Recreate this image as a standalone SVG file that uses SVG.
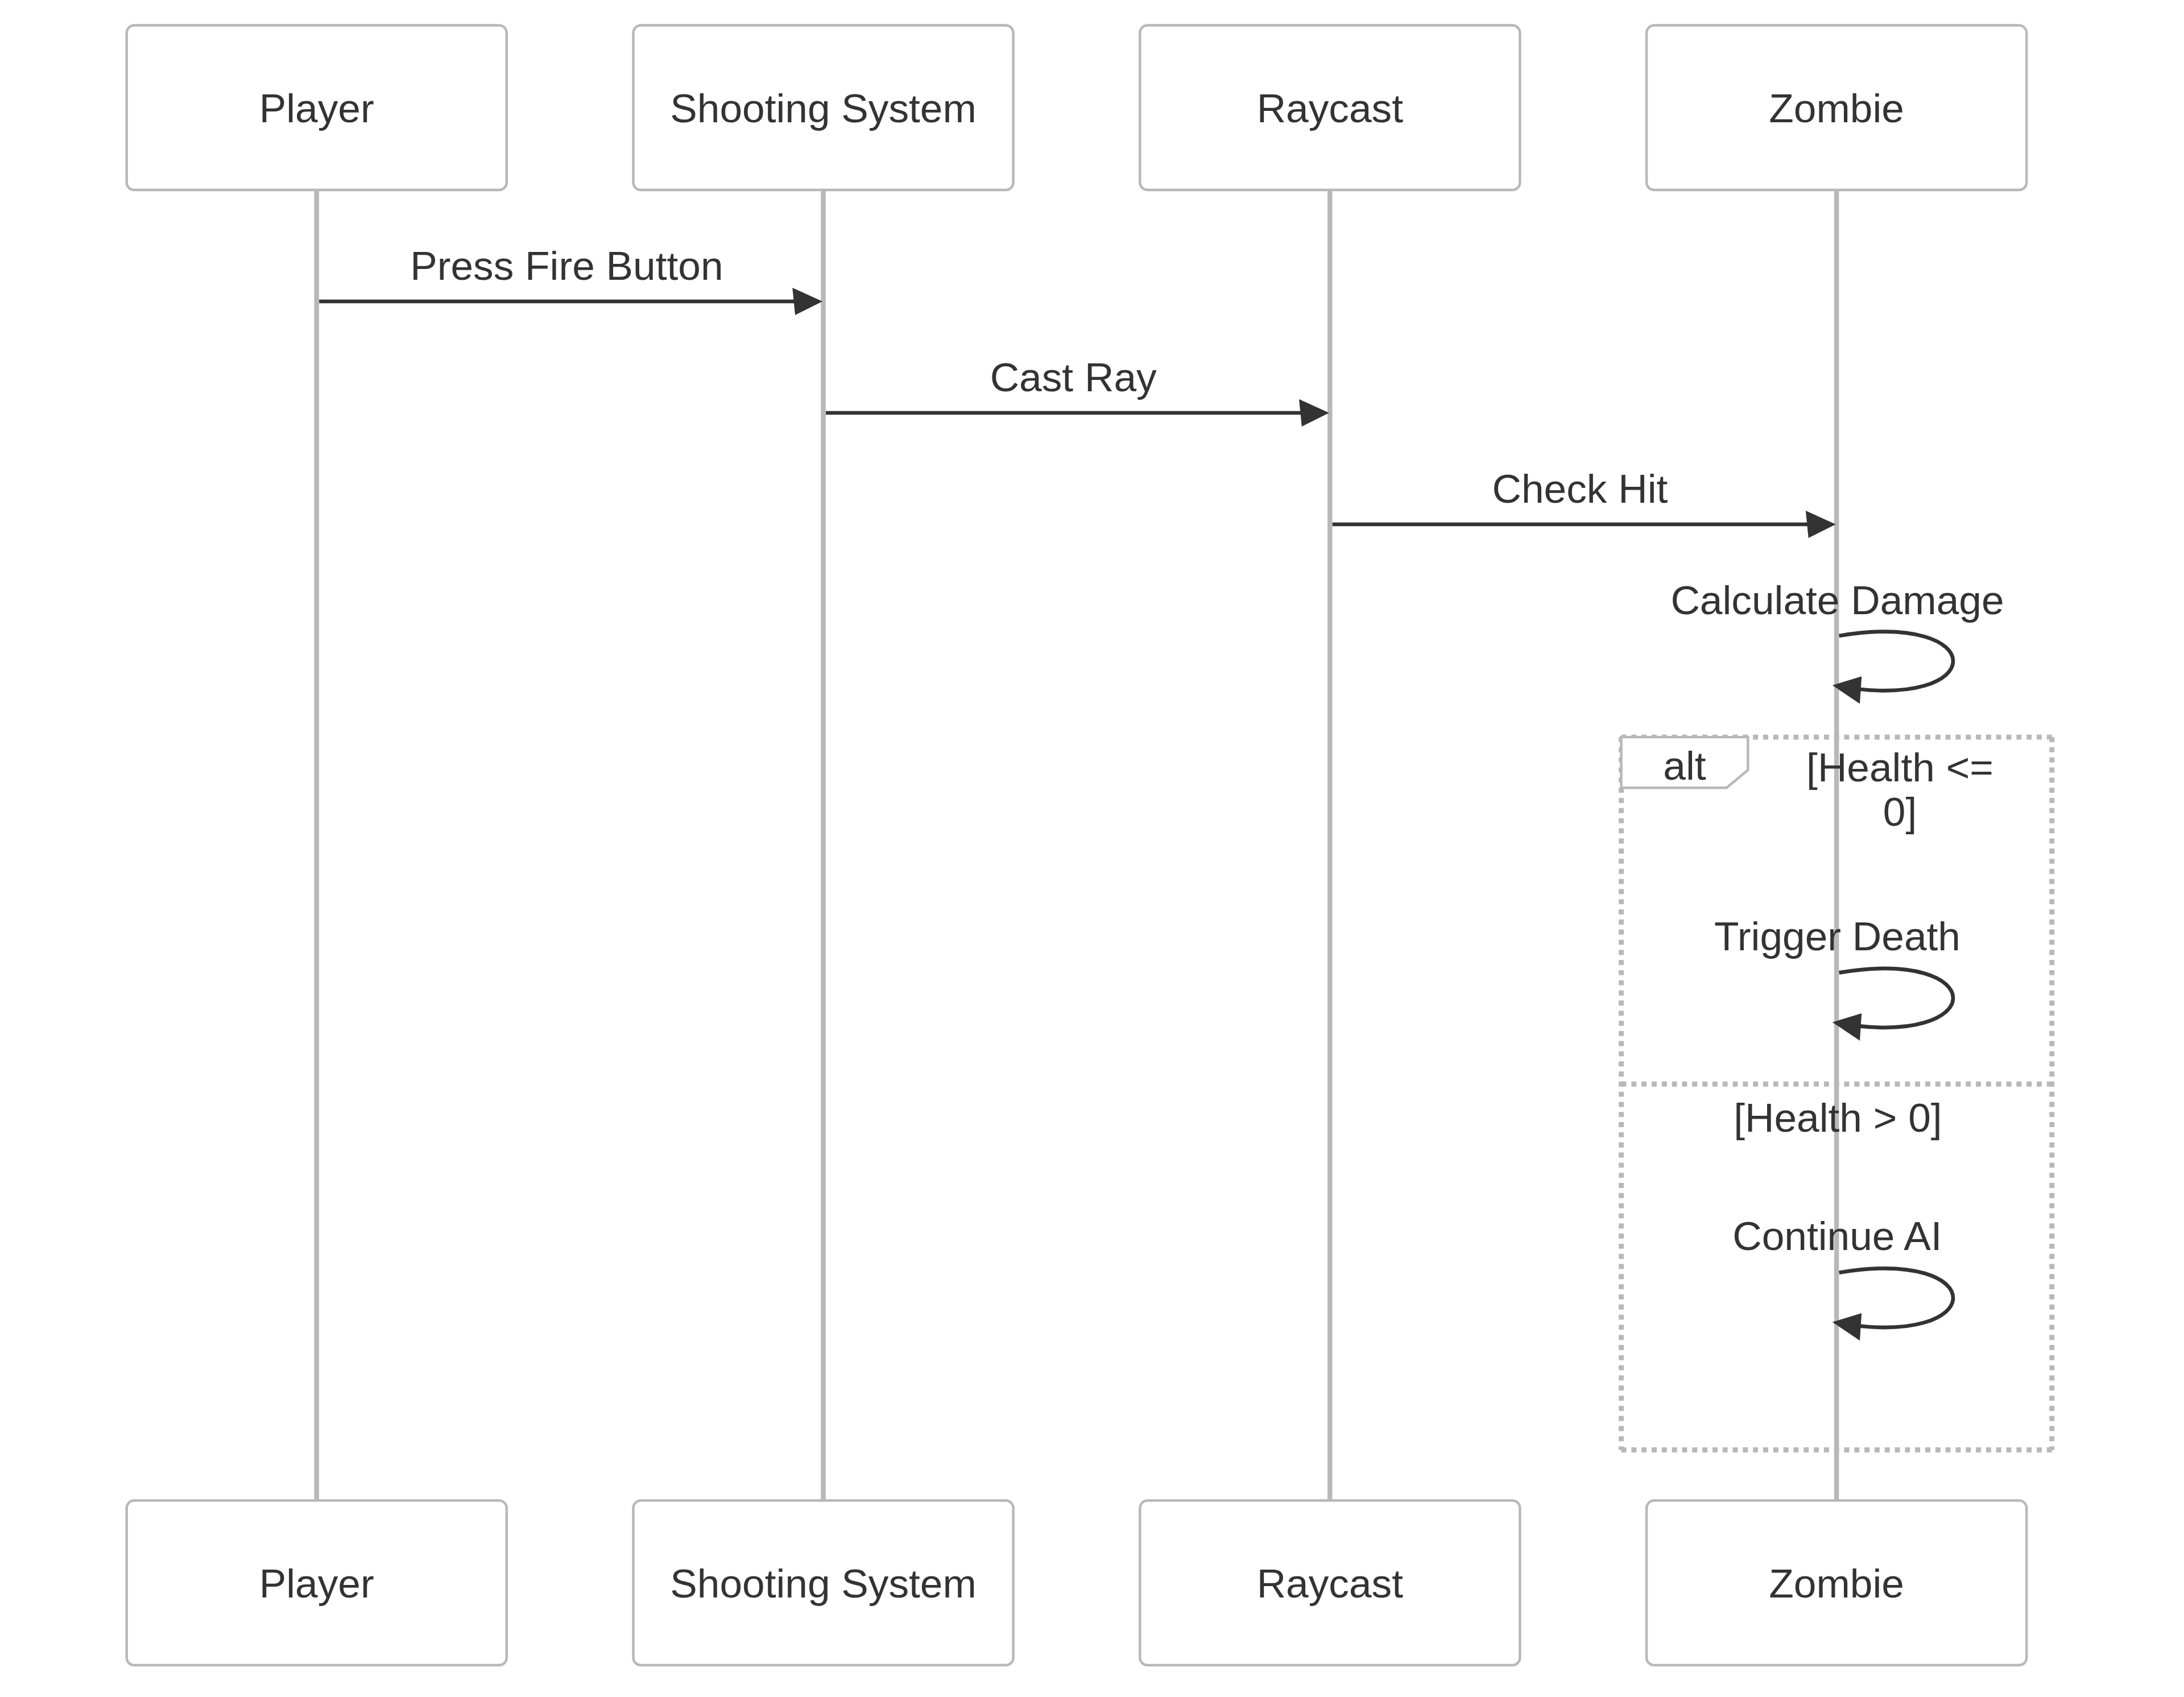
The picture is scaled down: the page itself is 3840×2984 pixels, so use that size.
<svg xmlns="http://www.w3.org/2000/svg" width="3840" height="2984" viewBox="0 0 3840 2984">
<style>
.actor-box{fill:#ffffff;stroke:#b8b8b8;stroke-width:1}
.actor-text{font-family:"Liberation Sans",Arial,sans-serif;font-size:16px;fill:#333333;text-anchor:middle}
.lifeline{stroke:#b8b8b8;stroke-width:1.9}
.msg{stroke:#333333;stroke-width:1.5;fill:none}
.msg-text{font-family:"Liberation Sans",Arial,sans-serif;font-size:16px;fill:#333333;text-anchor:middle}
.loop-line{stroke:#b8b8b8;stroke-width:2;stroke-dasharray:2,2;fill:none}
.label-box{fill:#ffffff;stroke:#b8b8b8;stroke-width:1}
</style>
<defs>
<marker id="arrowhead" refX="7.9" refY="5" markerUnits="userSpaceOnUse" markerWidth="12" markerHeight="12" orient="auto" overflow="visible">
<path d="M -1 0 L 10 5 L 0 10 z" fill="#333333" stroke="#333333" stroke-width="0.5"/>
</marker>
</defs>
<rect x="0" y="0" width="3840" height="2984" fill="#ffffff"/>
<g transform="matrix(4.454 0 0 4.454 222.7 44.54)">
<g id="player">
<line class="lifeline" x1="75" y1="65" x2="75" y2="582.4"/>
<rect class="actor-box" x="0" y="0" width="150" height="65" rx="3" ry="3"/>
<text class="actor-text" x="75" y="38.2">Player</text>
<rect class="actor-box" x="0" y="582.4" width="150" height="65" rx="3" ry="3"/>
<text class="actor-text" x="75" y="620.6">Player</text>
</g>
<g id="shooting-system">
<line class="lifeline" x1="275" y1="65" x2="275" y2="582.4"/>
<rect class="actor-box" x="200" y="0" width="150" height="65" rx="3" ry="3"/>
<text class="actor-text" x="275" y="38.2">Shooting System</text>
<rect class="actor-box" x="200" y="582.4" width="150" height="65" rx="3" ry="3"/>
<text class="actor-text" x="275" y="620.6">Shooting System</text>
</g>
<g id="raycast">
<line class="lifeline" x1="475" y1="65" x2="475" y2="582.4"/>
<rect class="actor-box" x="400" y="0" width="150" height="65" rx="3" ry="3"/>
<text class="actor-text" x="475" y="38.2">Raycast</text>
<rect class="actor-box" x="400" y="582.4" width="150" height="65" rx="3" ry="3"/>
<text class="actor-text" x="475" y="620.6">Raycast</text>
</g>
<g id="zombie">
<line class="lifeline" x1="675" y1="65" x2="675" y2="582.4"/>
<rect class="actor-box" x="600" y="0" width="150" height="65" rx="3" ry="3"/>
<text class="actor-text" x="675" y="38.2">Zombie</text>
<rect class="actor-box" x="600" y="582.4" width="150" height="65" rx="3" ry="3"/>
<text class="actor-text" x="675" y="620.6">Zombie</text>
</g>
<g id="alt-fragment">
<line class="loop-line" x1="590" y1="281" x2="760" y2="281"/>
<line class="loop-line" x1="760" y1="281" x2="760" y2="562.4"/>
<line class="loop-line" x1="590" y1="562.4" x2="760" y2="562.4"/>
<line class="loop-line" x1="590" y1="281" x2="590" y2="562.4"/>
<line class="loop-line" x1="590" y1="418" x2="760" y2="418"/>
<polygon class="label-box" points="590,281 640,281 640,294 631.6,301 590,301"/>
<text class="msg-text" x="615" y="297.9">alt</text>
<text class="msg-text" x="700" y="298.5">[Health &lt;=</text>
<text class="msg-text" x="700" y="315.9">0]</text>
<text class="msg-text" x="675.5" y="436.9">[Health &gt; 0]</text>
</g>
<g id="connectors">
<line class="msg" x1="76" y1="109" x2="272" y2="109" marker-end="url(#arrowhead)"/>
<text class="msg-text" x="173.7" y="100.4">Press Fire Button</text>
<line class="msg" x1="276" y1="153" x2="472" y2="153" marker-end="url(#arrowhead)"/>
<text class="msg-text" x="373.7" y="144.4">Cast Ray</text>
<line class="msg" x1="476" y1="197" x2="672" y2="197" marker-end="url(#arrowhead)"/>
<text class="msg-text" x="573.7" y="188.4">Check Hit</text>
<path class="msg" d="M 676,241 C 736,231 736,271 676,261" marker-end="url(#arrowhead)"/>
<text class="msg-text" x="675.3" y="232.4">Calculate Damage</text>
<path class="msg" d="M 676,374 C 736,364 736,404 676,394" marker-end="url(#arrowhead)"/>
<text class="msg-text" x="675.3" y="365.2">Trigger Death</text>
<path class="msg" d="M 676,492.4 C 736,482.4 736,522.4 676,512.4" marker-end="url(#arrowhead)"/>
<text class="msg-text" x="675.3" y="483.6">Continue AI</text>
</g>
</g>
</svg>
